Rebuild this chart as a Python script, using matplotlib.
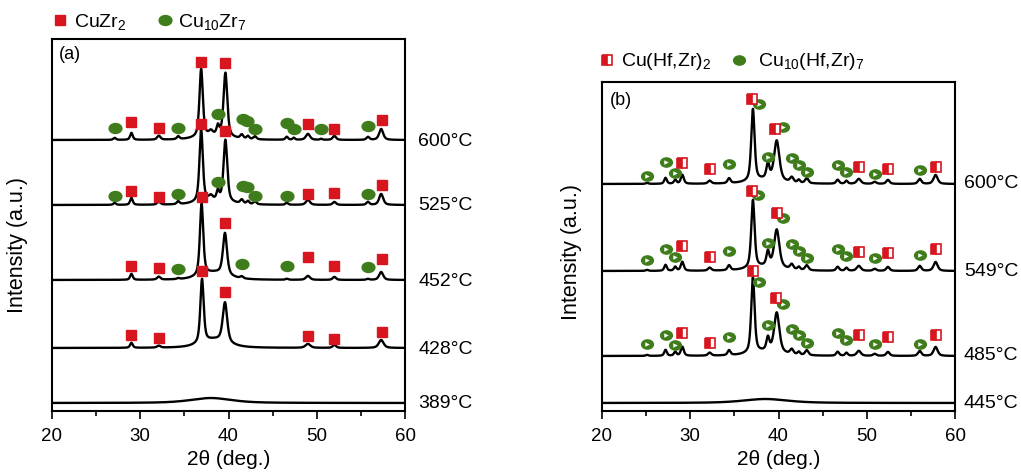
import numpy as np
import matplotlib
matplotlib.use('Agg')
import matplotlib.pyplot as plt
from matplotlib.path import Path
from matplotlib.transforms import Affine2D, blended_transform_factory
from matplotlib.lines import Line2D
from matplotlib.legend_handler import HandlerTuple
from matplotlib.ticker import MultipleLocator

plt.rcParams['font.family'] = ['Liberation Sans', 'DejaVu Sans']
plt.rcParams['mathtext.fontset'] = 'custom'
plt.rcParams['mathtext.rm'] = 'Liberation Sans'
plt.rcParams['mathtext.it'] = 'Liberation Sans:italic'

RED = '#d7161f'
GREEN = '#3f7d1c'

# ---------------- data ----------------
two_theta = np.linspace(20, 60, 2401)

# Panel (a): CuZr2 / Cu10Zr7 ; (position, height, fwhm)
a_labels = ['600°C', '525°C', '452°C', '428°C', '389°C']
a_offsets = [271, 206, 131, 63, 8]
a_peaks_600 = [(27.1, 2, 0.35), (29.0, 7, 0.35), (32.1, 4, 0.45), (34.3, 3, 0.35),
               (36.9, 68, 0.45), (38.0, 4, 0.5), (38.8, 9, 0.35), (39.65, 64, 0.5),
               (41.5, 4, 0.4), (42.2, 3, 0.35), (43.0, 3, 0.4), (46.6, 3, 0.35),
               (47.4, 2, 0.3), (49.0, 6, 0.55), (50.5, 1, 0.3), (52.0, 4, 0.45),
               (55.8, 3, 0.4), (57.3, 11, 0.55), (38.3, 4, 4.0)]
a_peaks_525 = [(27.1, 2, 0.35), (29.0, 7, 0.35), (32.1, 3, 0.45), (34.3, 3, 0.35),
               (36.9, 73, 0.45), (38.0, 4, 0.5), (38.8, 9, 0.35), (39.65, 62, 0.5),
               (41.5, 4, 0.4), (42.2, 3, 0.35), (43.0, 3, 0.4), (46.6, 2, 0.35),
               (49.0, 5, 0.55), (52.0, 3, 0.45), (55.8, 3, 0.4), (57.3, 11, 0.55),
               (38.3, 4, 4.0)]
a_peaks_452 = [(29.0, 6, 0.35), (32.1, 3, 0.45), (34.3, 1, 0.35), (36.95, 72, 0.45),
               (39.6, 42, 0.55), (41.5, 2, 0.4), (46.6, 1, 0.35), (49.0, 4, 0.55),
               (52.0, 3, 0.45), (55.8, 1, 0.4), (57.3, 8, 0.55), (38.4, 7, 3.5)]
a_peaks_428 = [(29.0, 5, 0.35), (32.1, 2, 0.45), (37.0, 64, 0.45), (39.6, 40, 0.6),
               (49.0, 4, 0.65), (52.0, 3, 0.45), (57.3, 8, 0.65), (38.4, 8, 3.5)]
a_peaks_389 = [(38.0, 5, 5.5)]
a_peaks = [a_peaks_600, a_peaks_525, a_peaks_452, a_peaks_428, a_peaks_389]

# marker positions (2theta) and heights above each pattern's baseline
a_sq_pos = [[29.0, 32.1, 36.9, 39.65, 49.0, 52.0, 57.4],
            [29.0, 32.1, 36.9, 39.65, 49.0, 52.0, 57.4],
            [29.0, 32.1, 36.95, 39.6, 49.0, 52.0, 57.4],
            [29.0, 32.1, 37.0, 39.6, 49.0, 52.0, 57.4],
            []]
a_sq_hgt = [[18, 12, 78, 77, 16, 11, 20],
            [14, 8, 81, 74, 11, 12, 20],
            [14, 12, 83, 57, 23, 14, 21],
            [13, 10, 77, 56, 12, 9, 16],
            []]
a_ci_pos = [[27.1, 34.3, 38.8, 41.6, 42.1, 43.0, 46.6, 47.4, 50.5, 55.8],
            [27.1, 34.3, 38.8, 41.6, 42.1, 43.0, 46.6, 55.8],
            [34.3, 41.5, 46.6, 55.8],
            [], []]
a_ci_hgt = [[12, 12, 26, 21, 19, 11, 17, 11, 11, 14],
            [9, 11, 23, 19, 18, 9, 9, 11],
            [11, 16, 14, 13],
            [], []]

# Panel (b): Cu(Hf,Zr)2 / Cu10(Hf,Zr)7
b_labels = ['600°C', '549°C', '485°C', '445°C']
b_offsets = [227, 140, 55, 8]
b_peaks_600 = [(25.1, 1, 0.35), (27.2, 6, 0.35), (28.3, 4, 0.35), (29.1, 9, 0.4),
               (32.2, 3, 0.45), (34.4, 5, 0.4), (37.1, 72, 0.45), (38.8, 15, 0.4),
               (39.8, 40, 0.7), (41.5, 5, 0.45), (42.3, 3, 0.35), (43.2, 5, 0.45),
               (46.7, 4, 0.4), (47.7, 3, 0.35), (49.1, 5, 0.55), (50.9, 2, 0.45),
               (52.4, 4, 0.45), (56.0, 5, 0.45), (57.8, 9, 0.55), (38.6, 4, 4.0)]
b_peaks_549 = [(25.1, 1, 0.35), (27.2, 6, 0.35), (28.3, 4, 0.35), (29.1, 9, 0.4),
               (32.2, 3, 0.45), (34.4, 5, 0.4), (37.1, 68, 0.45), (38.8, 14, 0.4),
               (39.8, 38, 0.7), (41.5, 5, 0.45), (42.3, 3, 0.35), (43.2, 5, 0.45),
               (46.7, 4, 0.4), (47.7, 3, 0.35), (49.1, 5, 0.55), (50.9, 2, 0.45),
               (52.4, 4, 0.45), (56.0, 5, 0.45), (57.8, 9, 0.55), (38.6, 4, 4.0)]
b_peaks_485 = [(25.1, 1, 0.35), (27.2, 6, 0.35), (28.3, 4, 0.35), (29.1, 9, 0.4),
               (32.2, 3, 0.45), (34.4, 5, 0.4), (37.1, 76, 0.45), (38.8, 13, 0.4),
               (39.8, 40, 0.7), (41.5, 5, 0.45), (42.3, 3, 0.35), (43.2, 5, 0.45),
               (46.7, 4, 0.4), (47.7, 3, 0.35), (49.1, 5, 0.55), (50.9, 2, 0.45),
               (52.4, 4, 0.45), (56.0, 5, 0.45), (57.8, 9, 0.55), (38.6, 4, 4.0)]
b_peaks_445 = [(38.5, 4, 6.0)]
b_peaks = [b_peaks_600, b_peaks_549, b_peaks_485, b_peaks_445]

b_sq_pos = [[29.1, 32.2, 37.0, 39.6, 49.1, 52.4, 57.8],
            [29.1, 32.2, 37.0, 39.8, 49.1, 52.4, 57.8],
            [29.1, 32.2, 37.1, 39.7, 49.1, 52.4, 57.8],
            []]
b_sq_hgt = [[21, 15, 85, 55, 17, 15, 17],
            [25, 14, 80, 58, 19, 18, 22],
            [23, 13, 85, 58, 21, 19, 21],
            []]
b_ci_pos = [[25.1, 27.2, 28.3, 34.4, 37.8, 38.8, 40.5, 41.5, 42.3, 43.2, 46.7, 47.7, 50.9, 56.0],
            [25.1, 27.2, 28.3, 34.4, 37.7, 38.8, 40.5, 41.5, 42.3, 43.2, 46.7, 47.7, 50.9, 56.0],
            [25.1, 27.2, 28.3, 34.4, 37.8, 38.8, 40.5, 41.5, 42.3, 43.2, 46.7, 47.7, 50.9, 56.0],
            []]
b_ci_hgt = [[8, 22, 11, 20, 80, 27, 57, 26, 19, 12, 19, 12, 10, 14],
            [11, 22, 14, 20, 76, 28, 53, 27, 20, 13, 22, 15, 13, 16],
            [12, 21, 11, 19, 74, 31, 52, 27, 21, 13, 23, 16, 12, 12],
            []]


def pattern(x, peaks):
    y = np.zeros_like(x)
    for pos, h, w in peaks:
        g = np.exp(-4 * np.log(2) * ((x - pos) / w) ** 2)
        l = 1.0 / (1.0 + 4 * ((x - pos) / w) ** 2)
        y += h * (0.4 * g + 0.6 * l)
    return y


ellipse = Path.unit_circle().transformed(Affine2D().scale(1.0, 0.78))

fig = plt.figure(figsize=(10.21, 4.76), dpi=100)
ax_a = fig.add_axes([52 / 1021, 65 / 476, 353 / 1021, 372 / 476])
ax_b = fig.add_axes([602 / 1021, 65 / 476, 353 / 1021, 329 / 476])


def style_axes(ax, ymax):
    ax.set_xlim(20, 60)
    ax.set_ylim(0, ymax)
    ax.set_yticks([])
    ax.xaxis.set_major_locator(MultipleLocator(10))
    ax.xaxis.set_minor_locator(MultipleLocator(5))
    ax.tick_params(axis='x', which='major', direction='out', length=6, width=1.2,
                   labelsize=13.5, pad=6)
    ax.tick_params(axis='x', which='minor', direction='out', length=3.5, width=1.2)
    for s in ax.spines.values():
        s.set_linewidth(1.5)
    ax.set_xlabel('2θ (deg.)', fontsize=15, labelpad=4)


# ----- panel (a)
for off, pk, lab, sp, sh, cp, ch in zip(a_offsets, a_peaks, a_labels,
                                       a_sq_pos, a_sq_hgt, a_ci_pos, a_ci_hgt):
    ax_a.plot(two_theta, off + pattern(two_theta, pk), color='black', lw=1.7, zorder=2)
    ax_a.plot(cp, np.array(ch) + off, ls='', marker=ellipse, ms=9.2, color=GREEN,
              mec=GREEN, zorder=3, clip_on=False)
    ax_a.plot(sp, np.array(sh) + off, ls='', marker='s', ms=7, color=RED,
              mec=RED, zorder=4, clip_on=False)
    ax_a.text(1.037, off - 1, lab, transform=blended_transform_factory(ax_a.transAxes, ax_a.transData),
              fontsize=14, va='center', ha='left')
style_axes(ax_a, 372)
ax_a.text(0.02, 0.957, '(a)', transform=ax_a.transAxes, fontsize=13, va='center', ha='left')

h_sq_a = Line2D([], [], ls='', marker='s', ms=7, color=RED, mec=RED)
h_ci_a = Line2D([], [], ls='', marker=ellipse, ms=9.2, color=GREEN, mec=GREEN)
ax_a.legend([h_sq_a, h_ci_a], ['CuZr$_2$', 'Cu$_{10}$Zr$_7$'], loc='center left',
            bbox_to_anchor=(-0.005, 1.047), ncol=2, frameon=False, fontsize=14,
            handlelength=1.0, handletextpad=0.2, columnspacing=1.5, borderpad=0,
            borderaxespad=0)

# ----- panel (b)
for off, pk, lab, sp, sh, cp, ch in zip(b_offsets, b_peaks, b_labels,
                                       b_sq_pos, b_sq_hgt, b_ci_pos, b_ci_hgt):
    ax_b.plot(two_theta, off + pattern(two_theta, pk), color='black', lw=1.7, zorder=2)
    ax_b.plot(cp, np.array(ch) + off, ls='', marker=ellipse, ms=8.5, color=GREEN,
              mec=GREEN, zorder=3, clip_on=False)
    ax_b.plot(cp, np.array(ch) + off, ls='', marker='>', ms=3.2, color='white',
              mec='white', mew=0, zorder=3.5, clip_on=False)
    ax_b.plot(sp, np.array(sh) + off, ls='', marker='s', ms=6.5, fillstyle='left',
              markerfacecolor=RED, markerfacecoloralt='white', mec=RED, mew=1.2,
              zorder=4, clip_on=False)
    ax_b.text(1.025, off, lab, transform=blended_transform_factory(ax_b.transAxes, ax_b.transData),
              fontsize=14, va='center', ha='left')
style_axes(ax_b, 329)
ax_b.text(0.023, 0.945, '(b)', transform=ax_b.transAxes, fontsize=13, va='center', ha='left')

h_sq_b = Line2D([], [], ls='', marker='s', ms=6.5, fillstyle='left', markerfacecolor=RED,
                markerfacecoloralt='white', mec=RED, mew=1.2)
h_ci_b1 = Line2D([], [], ls='', marker=ellipse, ms=8.5, color=GREEN, mec=GREEN)
h_ci_b2 = Line2D([], [], ls='', marker='>', ms=3.2, color='white', mec='white', mew=0)
ax_b.legend([h_sq_b, (h_ci_b1, h_ci_b2)], ['Cu(Hf,Zr)$_2$', 'Cu$_{10}$(Hf,Zr)$_7$'],
            loc='center left', bbox_to_anchor=(-0.013, 1.061), ncol=2, frameon=False,
            fontsize=14, handlelength=1.0, handletextpad=0.2, columnspacing=1.2,
            borderpad=0, borderaxespad=0, handler_map={tuple: HandlerTuple(ndivide=None)})

fig.text(18 / 1021, 1 - 245 / 476, 'Intensity (a.u.)', rotation=90, fontsize=15.5,
         va='center', ha='center')
fig.text(572 / 1021, 1 - 252 / 476, 'Intensity (a.u.)', rotation=90, fontsize=15.5,
         va='center', ha='center')

fig.savefig('out.png', dpi=100)
